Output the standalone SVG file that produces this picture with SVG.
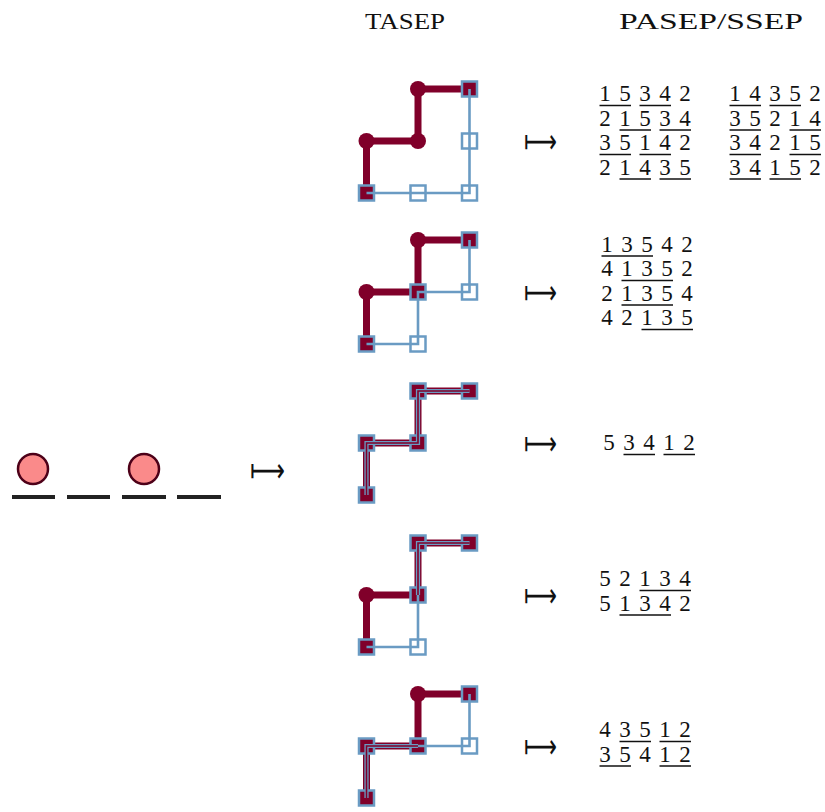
<svg xmlns="http://www.w3.org/2000/svg" width="825" height="812" viewBox="0 0 825 812">
<style>
.bg{fill:#ffffff}
.red{fill:none;stroke:#80002a;stroke-width:7;stroke-linejoin:round}
.dot{fill:#80002a}
.sqR{fill:#80002a;stroke:#6a9bc3;stroke-width:2.5}
.sqW{fill:#ffffff;stroke:#6a9bc3;stroke-width:2.5}
.blue{fill:none;stroke:#6a9bc3;stroke-width:2.6}
.ovB{fill:none;stroke:#6a9bc3;stroke-width:4.2}
.ovR{fill:none;stroke:#80002a;stroke-width:1.6}
.num{font-family:"Liberation Serif","DejaVu Serif",serif;font-size:23px;fill:#111;text-anchor:middle}
.ttl{font-family:"Liberation Serif","DejaVu Serif",serif;font-size:23px;fill:#111;text-anchor:middle}
.map{font-family:"DejaVu Sans",sans-serif;font-size:34px;fill:#111}
.ul{stroke:#111;stroke-width:1.5}
.site{stroke:#222;stroke-width:4}
.part{fill:#fa8a8a;stroke:#4d0018;stroke-width:2.5}
</style>
<rect class="bg" x="0" y="0" width="825" height="812"/>
<defs>
<rect id="s" x="-7.5" y="-7.5" width="15" height="15"/>
</defs>

<g id="titles">
<text class="ttl" x="405" y="29" textLength="80" lengthAdjust="spacingAndGlyphs">TASEP</text>
<text class="ttl" x="711" y="29" textLength="184" lengthAdjust="spacingAndGlyphs">PASEP/SSEP</text>
</g>

<g id="configuration">
<circle class="part" cx="33" cy="469" r="15"/>
<circle class="part" cx="144" cy="469" r="15"/>
<line class="site" x1="12" y1="497" x2="55" y2="497"/>
<line class="site" x1="67" y1="497" x2="110" y2="497"/>
<line class="site" x1="122" y1="497" x2="166" y2="497"/>
<line class="site" x1="177" y1="497" x2="221" y2="497"/>
</g>

<g id="connectors">
<text class="map" x="250" y="482" textLength="35" lengthAdjust="spacingAndGlyphs">⟼</text>
<text class="map" x="524" y="153" textLength="33" lengthAdjust="spacingAndGlyphs">⟼</text>
<text class="map" x="524" y="304" textLength="33" lengthAdjust="spacingAndGlyphs">⟼</text>
<text class="map" x="524" y="455" textLength="33" lengthAdjust="spacingAndGlyphs">⟼</text>
<text class="map" x="524" y="607" textLength="33" lengthAdjust="spacingAndGlyphs">⟼</text>
<text class="map" x="524" y="758" textLength="33" lengthAdjust="spacingAndGlyphs">⟼</text>
</g>

<g id="panel1" transform="translate(0,89)">
<path class="red" d="M366.5 104V52H418V0H469.5"/>
<circle class="dot" cx="366.5" cy="52" r="8"/>
<circle class="dot" cx="418" cy="52" r="8"/>
<circle class="dot" cx="418" cy="0" r="8"/>
<use href="#s" class="sqR" x="366.5" y="104"/>
<use href="#s" class="sqW" x="418" y="104"/>
<use href="#s" class="sqW" x="469.5" y="104"/>
<use href="#s" class="sqW" x="469.5" y="52"/>
<use href="#s" class="sqR" x="469.5" y="0"/>
<path class="blue" d="M366.5 104H469.5V0"/>
</g>

<g id="panel2" transform="translate(0,240)">
<path class="red" d="M366.5 104V52H418V0H469.5"/>
<circle class="dot" cx="366.5" cy="52" r="8"/>
<circle class="dot" cx="418" cy="0" r="8"/>
<use href="#s" class="sqR" x="366.5" y="104"/>
<use href="#s" class="sqW" x="418" y="104"/>
<use href="#s" class="sqR" x="418" y="52"/>
<use href="#s" class="sqW" x="469.5" y="52"/>
<use href="#s" class="sqR" x="469.5" y="0"/>
<path class="blue" d="M366.5 104H418V52H469.5V0"/>
</g>

<g id="panel3" transform="translate(0,391)">
<path class="red" d="M366.5 104V52H418V0H469.5"/>
<use href="#s" class="sqR" x="366.5" y="104"/>
<use href="#s" class="sqR" x="366.5" y="52"/>
<use href="#s" class="sqR" x="418" y="52"/>
<use href="#s" class="sqR" x="418" y="0"/>
<use href="#s" class="sqR" x="469.5" y="0"/>
<path class="ovB" d="M366.5 104V52H418V0H469.5"/>
<path class="ovR" d="M366.5 104V52H418V0H469.5"/>
</g>

<g id="panel4" transform="translate(0,543)">
<path class="red" d="M366.5 104V52H418V0H469.5"/>
<circle class="dot" cx="366.5" cy="52" r="8"/>
<use href="#s" class="sqR" x="366.5" y="104"/>
<use href="#s" class="sqW" x="418" y="104"/>
<use href="#s" class="sqR" x="418" y="52"/>
<use href="#s" class="sqR" x="418" y="0"/>
<use href="#s" class="sqR" x="469.5" y="0"/>
<path class="blue" d="M366.5 104H418V52"/>
<path class="ovB" d="M418 52V0H469.5"/>
<path class="ovR" d="M418 52V0H469.5"/>
</g>

<g id="panel5" transform="translate(0,694)">
<path class="red" d="M366.5 104V52H418V0H469.5"/>
<circle class="dot" cx="418" cy="0" r="8"/>
<use href="#s" class="sqR" x="366.5" y="104"/>
<use href="#s" class="sqR" x="366.5" y="52"/>
<use href="#s" class="sqR" x="418" y="52"/>
<use href="#s" class="sqW" x="469.5" y="52"/>
<use href="#s" class="sqR" x="469.5" y="0"/>
<path class="blue" d="M418 52H469.5V0"/>
<path class="ovB" d="M366.5 104V52H418"/>
<path class="ovR" d="M366.5 104V52H418"/>
</g>

<g id="words1">
<text class="num" x="605 615 625 635 645 655 665 675 685" y="101">1 5 3 4 2</text>
<line class="ul" x1="599.5" y1="105.5" x2="631" y2="105.5"/><line class="ul" x1="639.5" y1="105.5" x2="671" y2="105.5"/>
<text class="num" x="605 615 625 635 645 655 665 675 685" y="125.5">2 1 5 3 4</text>
<line class="ul" x1="619.5" y1="130" x2="651" y2="130"/><line class="ul" x1="659.5" y1="130" x2="691" y2="130"/>
<text class="num" x="605 615 625 635 645 655 665 675 685" y="150">3 5 1 4 2</text>
<line class="ul" x1="599.5" y1="154.5" x2="631" y2="154.5"/><line class="ul" x1="639.5" y1="154.5" x2="671" y2="154.5"/>
<text class="num" x="605 615 625 635 645 655 665 675 685" y="174.5">2 1 4 3 5</text>
<line class="ul" x1="619.5" y1="179" x2="651" y2="179"/><line class="ul" x1="659.5" y1="179" x2="691" y2="179"/>

<text class="num" x="735 745 755 765 775 785 795 805 815" y="101">1 4 3 5 2</text>
<line class="ul" x1="729.5" y1="105.5" x2="761" y2="105.5"/><line class="ul" x1="769.5" y1="105.5" x2="801" y2="105.5"/>
<text class="num" x="735 745 755 765 775 785 795 805 815" y="125.5">3 5 2 1 4</text>
<line class="ul" x1="729.5" y1="130" x2="761" y2="130"/><line class="ul" x1="789.5" y1="130" x2="821" y2="130"/>
<text class="num" x="735 745 755 765 775 785 795 805 815" y="150">3 4 2 1 5</text>
<line class="ul" x1="729.5" y1="154.5" x2="761" y2="154.5"/><line class="ul" x1="789.5" y1="154.5" x2="821" y2="154.5"/>
<text class="num" x="735 745 755 765 775 785 795 805 815" y="174.5">3 4 1 5 2</text>
<line class="ul" x1="729.5" y1="179" x2="761" y2="179"/><line class="ul" x1="769.5" y1="179" x2="801" y2="179"/>
</g>

<g id="words2">
<text class="num" x="607 617 627 637 647 657 667 677 687" y="251.5">1 3 5 4 2</text>
<line class="ul" x1="601.5" y1="256" x2="653" y2="256"/>
<text class="num" x="607 617 627 637 647 657 667 677 687" y="276">4 1 3 5 2</text>
<line class="ul" x1="621.5" y1="280.5" x2="673" y2="280.5"/>
<text class="num" x="607 617 627 637 647 657 667 677 687" y="300.5">2 1 3 5 4</text>
<line class="ul" x1="621.5" y1="305" x2="673" y2="305"/>
<text class="num" x="607 617 627 637 647 657 667 677 687" y="325">4 2 1 3 5</text>
<line class="ul" x1="641.5" y1="329.5" x2="693" y2="329.5"/>
</g>

<g id="words3">
<text class="num" x="609 619 629 639 649 659 669 679 689" y="450">5 3 4 1 2</text>
<line class="ul" x1="623.5" y1="454.5" x2="655" y2="454.5"/><line class="ul" x1="663.5" y1="454.5" x2="695" y2="454.5"/>
</g>

<g id="words4">
<text class="num" x="605 615 625 635 645 655 665 675 685" y="586">5 2 1 3 4</text>
<line class="ul" x1="639.5" y1="590.5" x2="691" y2="590.5"/>
<text class="num" x="605 615 625 635 645 655 665 675 685" y="610.5">5 1 3 4 2</text>
<line class="ul" x1="619.5" y1="615" x2="671" y2="615"/>
</g>

<g id="words5">
<text class="num" x="605 615 625 635 645 655 665 675 685" y="737">4 3 5 1 2</text>
<line class="ul" x1="619.5" y1="741.5" x2="651" y2="741.5"/><line class="ul" x1="659.5" y1="741.5" x2="691" y2="741.5"/>
<text class="num" x="605 615 625 635 645 655 665 675 685" y="761.5">3 5 4 1 2</text>
<line class="ul" x1="599.5" y1="766" x2="631" y2="766"/><line class="ul" x1="659.5" y1="766" x2="691" y2="766"/>
</g>
</svg>
